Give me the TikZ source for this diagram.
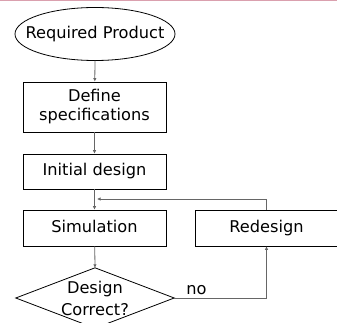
\documentclass[tikz,border=0pt]{standalone}
\usepackage{fontspec}
\setmainfont{DejaVu Sans}
\usetikzlibrary{shapes.geometric,arrows.meta}
\begin{document}
\begin{tikzpicture}[x=1pt,y=-1pt,
  every node/.style={font=\fontsize{16.2}{19}\selectfont},
  box/.style={draw=black,line width=0.8pt,minimum width=143pt,inner sep=0pt,align=center},
  oneline/.style={text height=11.8pt,text depth=3.4pt},
  flow/.style={draw=black!60,line width=0.8pt,-{Latex[length=3.5pt,width=3.5pt]}}]
\useasboundingbox (0,0) rectangle (337,323);
\clip (0,0) rectangle (337,323);
\draw[draw={rgb,255:red,218;green,160;blue,174},line width=1.2pt] (0,0.6) -- (337,0.6);
% start terminal: a fixed-size ellipse round the label node
\node[minimum width=160pt,minimum height=53pt,inner sep=0pt] (req) at (95,34) {Required Product};
\draw[black,line width=0.8pt] (req.center) ellipse [x radius=80pt, y radius=26.5pt];
% process chain
\node[box,minimum height=50pt] (spec) at (94.5,107) {Define\\specifications};
\node[box,oneline,minimum height=35pt] (init) at (94.5,171.5) {Initial design};
\node[box,oneline,minimum height=36pt] (sim) at (94.5,228) {Simulation};
\node[box,oneline,minimum height=36pt] (redo) at (266.5,228) {Redesign};
% decision
\node[minimum width=158pt,minimum height=60pt,inner sep=0pt,align=center,
  font=\fontsize{16.2}{22}\selectfont] (chk) at (95,298) {Design\\Correct?};
\draw[black,line width=0.8pt] (chk.north) -- (chk.east) -- (chk.south) -- (chk.west) -- cycle;
\coordinate (fbl) at (97,199);
% connectors
\draw[flow] (req.south) -- (spec);
\draw[flow] (spec) -- (init);
\draw[flow] (init) -- (sim);
\draw[flow] (sim) -- (chk.north);
\draw[flow] (chk.east) -| node[pos=0.12,above=0pt] {no} (redo.south);
\draw[flow] (redo.north) |- (fbl);
\end{tikzpicture}
\end{document}
